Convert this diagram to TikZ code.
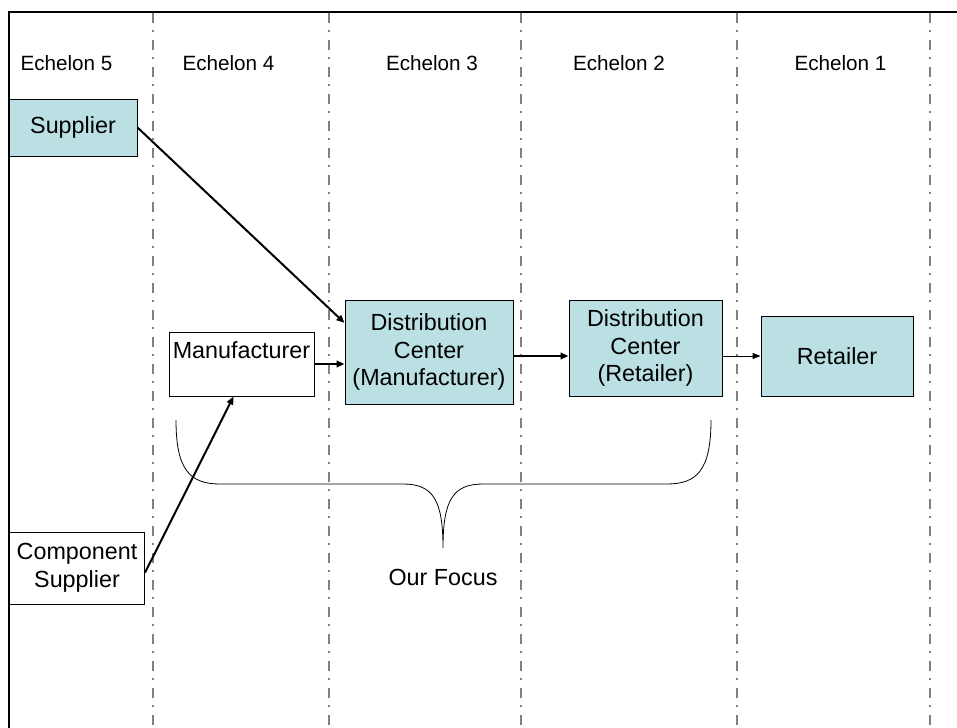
\documentclass[tikz,border=0pt]{standalone}
\usepackage{fontspec}
\setmainfont{Liberation Sans}
\usetikzlibrary{arrows.meta}
\definecolor{teal1}{RGB}{187,224,227}
\definecolor{sepgray}{RGB}{128,128,128}
\begin{document}
\begin{tikzpicture}[x=0.75pt,y=-0.75pt,
  sep/.style={draw=sepgray,line width=1.5pt,dash pattern=on 7.5pt off 5.25pt on 1.5pt off 6pt},
  box/.style={draw=black,line width=0.75pt,inner sep=0pt,align=center,
    font=\fontsize{17.5}{20.6}\selectfont},
  tealbox/.style={box,fill=teal1},
  whitebox/.style={box,fill=white},
  echelon/.style={inner sep=0pt,font=\fontsize{15.5}{18}\selectfont},
  flow/.style={line width=1.5pt,-{Triangle[length=6pt,width=5pt]}},
  thinflow/.style={line width=0.75pt,-{Triangle[length=6pt,width=4.5pt]}},
  bracestyle/.style={line width=0.6pt}]
\useasboundingbox (0,0) rectangle (957,728);
% separators
\foreach \xx in {153,329,521,737,930}
  \draw[sep] (\xx,13) -- (\xx,728);
% frame
\draw[line width=1.5pt] (957,12) -- (9,12) -- (9,728);
% echelon labels
\node[echelon] (e5) at (66.5,63) {Echelon 5};
\node[echelon] (e4) at (228.5,63) {Echelon 4};
\node[echelon] (e3) at (432,63) {Echelon 3};
\node[echelon] (e2) at (619,63) {Echelon 2};
\node[echelon] (e1) at (840.5,63) {Echelon 1};
% boxes
\node[tealbox,minimum width=96pt,minimum height=42.75pt] (sup) at (73,127.5) {Supplier};
\node[whitebox,minimum width=108.75pt,minimum height=48pt] (man) at (241.5,364) {Manufacturer\\[0pt]\mbox{}};
\node[tealbox,minimum width=126pt,minimum height=78pt] (dcm) at (429,352) {Distribution\\Center\\(Manufacturer)};
\node[tealbox,minimum width=114.75pt,minimum height=72pt] (dcr) at (645.5,348) {Distribution\\Center\\(Retailer)};
\node[tealbox,minimum width=114pt,minimum height=60pt] (ret) at (837,356) {Retailer};
\node[whitebox,minimum width=101.25pt,minimum height=54pt] (comp) at (77,568) {Component\\Supplier};
% connectors
\draw[flow] (sup.east) -- (dcm.161);
\draw[flow] (man.east) -- (man.east -| dcm.west);
\draw[flow] ([yshift=-3pt]dcm.east) -- ([yshift=-3pt]dcm.east -| dcr.west);
\draw[thinflow] (ret.west -| dcr.east) -- (ret.west);
\draw[flow] ([yshift=-3.5pt]comp.east) -- ([xshift=-6pt]man.south);
% brace
\draw[bracestyle] (176,420) .. controls (176,470) and (190,484) .. (220,484)
  -- (403,484) .. controls (433,484) and (443,500) .. (443,548)
  .. controls (443,500) and (453,484) .. (483,484)
  -- (667,484) .. controls (697,484) and (711,470) .. (711,420);
\node[inner sep=0pt,font=\fontsize{17.5}{20.6}\selectfont] (focus) at (443,577) {Our Focus};
\end{tikzpicture}
\end{document}
